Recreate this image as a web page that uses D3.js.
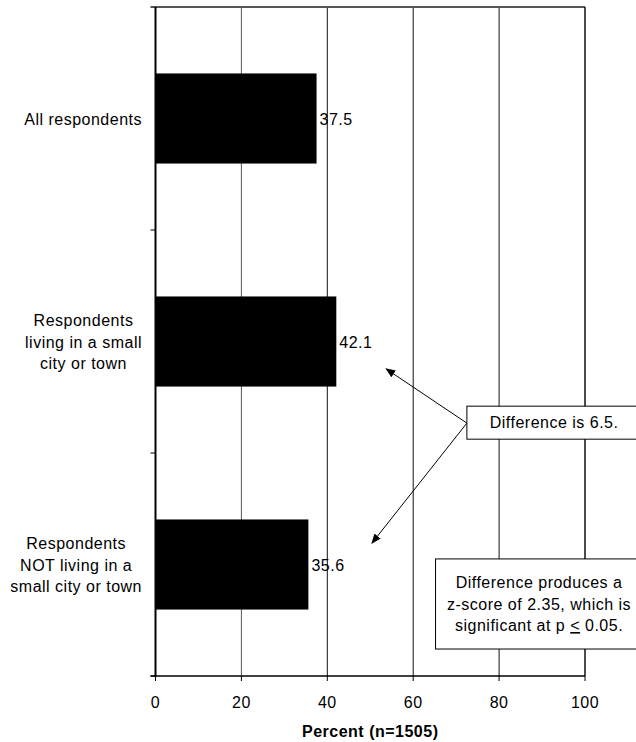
<!DOCTYPE html>
<html>
<head>
<meta charset="utf-8">
<script src="https://cdn.jsdelivr.net/npm/d3@7"></script>
<style>
  html, body { margin: 0; padding: 0; background: #fff; }
  svg { display: block; }
  text { font-family: Arial, "Liberation Sans", sans-serif; font-size: 16px; letter-spacing: 0.5px; fill: #000; }
</style>
</head>
<body>
<svg id="chart" width="636" height="742"></svg>
<script>
// ---- data ----
const categories = [
  ["All respondents"],
  ["Respondents", "living in a small", "city or town"],
  ["Respondents", "NOT living in a", "small city or town"]
];
const values = [37.5, 42.1, 35.6];
const xTicks = [0, 20, 40, 60, 80, 100];
const xTitle = "Percent (n=1505)";
const note1 = "Difference is 6.5.";
const note2 = ["Difference produces a", "z-score of 2.35, which is", "significant at p "];
const note2tail = ["<", " 0.05."];

// ---- layout ----
const svg = d3.select("#chart");
const pLeft = 155.5, pRight = 585, pTop = 7, pBottom = 676;
const x = d3.scaleLinear().domain([0, 100]).range([pLeft, pRight]);
const keys = categories.map((c, i) => i);
const y = d3.scaleBand().domain(keys).range([pTop, pBottom]).padding(0);
const yPos = d3.scaleLinear().domain([0, 3]).range([pTop, pBottom]); // category units for annotations
const barH = y.bandwidth() * 0.404;

// gridlines
svg.append("g").selectAll("line").data(xTicks.filter(t => t > 0 && t < 100)).join("line")
  .attr("x1", d => x(d)).attr("x2", d => x(d))
  .attr("y1", pTop).attr("y2", pBottom)
  .attr("stroke", (d, i) => i === 0 ? "#555" : "#111").attr("stroke-width", 1);

// top border
svg.append("line").attr("x1", pLeft - 5).attr("x2", pRight).attr("y1", pTop).attr("y2", pTop)
  .attr("stroke", "#555").attr("stroke-width", 2);
// right border
svg.append("line").attr("x1", x(100)).attr("x2", x(100)).attr("y1", pTop).attr("y2", pBottom)
  .attr("stroke", "#111").attr("stroke-width", 1.5);

// bars
svg.append("g").selectAll("rect").data(values).join("rect")
  .attr("x", x(0))
  .attr("y", (d, i) => y(i) + (y.bandwidth() - barH) / 2)
  .attr("width", d => x(d) - x(0))
  .attr("height", barH)
  .attr("fill", "#000");

// value labels
svg.append("g").selectAll("text").data(values).join("text")
  .attr("x", d => x(d) + 3)
  .attr("y", (d, i) => y(i) + y.bandwidth() / 2 + 6)
  .text(d => d.toFixed(1));

// y axis
svg.append("line").attr("x1", pLeft).attr("x2", pLeft).attr("y1", pTop).attr("y2", pBottom + 1)
  .attr("stroke", "#000").attr("stroke-width", 2);
svg.append("g").selectAll("line").data(keys.slice(1).concat([3])).join("line")
  .attr("x1", pLeft - 5).attr("x2", pLeft)
  .attr("y1", d => yPos(d)).attr("y2", d => yPos(d))
  .attr("stroke", "#000").attr("stroke-width", 1);

// category labels
const catG = svg.append("g");
categories.forEach((lines, i) => {
  const cy = y(i) + y.bandwidth() / 2 + 6;
  const lh = 21.7;
  const t = catG.append("text").attr("text-anchor", "middle");
  lines.forEach((ln, j) => {
    t.append("tspan").attr("x", 0).attr("y", cy + (j - (lines.length - 1) / 2) * lh).text(ln);
  });
  let maxW = 0;
  t.selectAll("tspan").each(function () { maxW = Math.max(maxW, this.getComputedTextLength()); });
  t.selectAll("tspan").attr("x", 142 - maxW / 2);
});

// x axis
svg.append("line").attr("x1", pLeft - 5).attr("x2", pRight).attr("y1", pBottom).attr("y2", pBottom)
  .attr("stroke", "#000").attr("stroke-width", 1.5);
svg.append("g").selectAll("line").data(xTicks).join("line")
  .attr("x1", d => x(d)).attr("x2", d => x(d))
  .attr("y1", pBottom).attr("y2", pBottom + 5)
  .attr("stroke", "#000").attr("stroke-width", 1);
svg.append("g").selectAll("text").data(xTicks).join("text")
  .attr("x", d => x(d)).attr("y", 708).attr("text-anchor", "middle")
  .text(d => d);
svg.append("text").attr("x", (pLeft + pRight) / 2).attr("y", 737).attr("text-anchor", "middle")
  .attr("font-weight", "bold").text(xTitle);

// arrow marker
const defs = svg.append("defs");
defs.append("marker").attr("id", "ah").attr("markerUnits", "userSpaceOnUse")
  .attr("markerWidth", 10).attr("markerHeight", 8).attr("refX", 9).attr("refY", 4)
  .attr("orient", "auto")
  .append("path").attr("d", "M0,0 L10,4 L0,8 Z").attr("fill", "#000");

// annotation arrows (positions in data units)
const origin = [72.5, 1.866];
const tips = [[53.7, 1.623], [50.4, 2.404]];
svg.append("g").selectAll("line").data(tips).join("line")
  .attr("x1", x(origin[0])).attr("y1", yPos(origin[1]))
  .attr("x2", d => x(d[0])).attr("y2", d => yPos(d[1]))
  .attr("stroke", "#000").attr("stroke-width", 1)
  .attr("marker-end", "url(#ah)");

// annotation box 1
svg.append("rect").attr("x", x(72.5)).attr("y", yPos(1.790))
  .attr("width", 200).attr("height", yPos(1.938) - yPos(1.790))
  .attr("fill", "#fff").attr("stroke", "#000").attr("stroke-width", 1);
svg.append("text").attr("x", x(92.8)).attr("y", 428).attr("text-anchor", "middle").text(note1);

// annotation box 2
svg.append("rect").attr("x", x(65.2)).attr("y", yPos(2.475))
  .attr("width", 230).attr("height", yPos(2.879) - yPos(2.475))
  .attr("fill", "#fff").attr("stroke", "#000").attr("stroke-width", 1);
const t2 = svg.append("text").attr("text-anchor", "middle");
[588, 609.5].forEach((by, j) => {
  t2.append("tspan").attr("x", x(89.3)).attr("y", by).text(note2[j]);
});
t2.append("tspan").attr("x", x(89.3)).attr("y", 631).text(note2[2]);
t2.append("tspan").attr("text-decoration", "underline").text(note2tail[0]);
t2.append("tspan").text(note2tail[1]);
</script>
</body>
</html>
